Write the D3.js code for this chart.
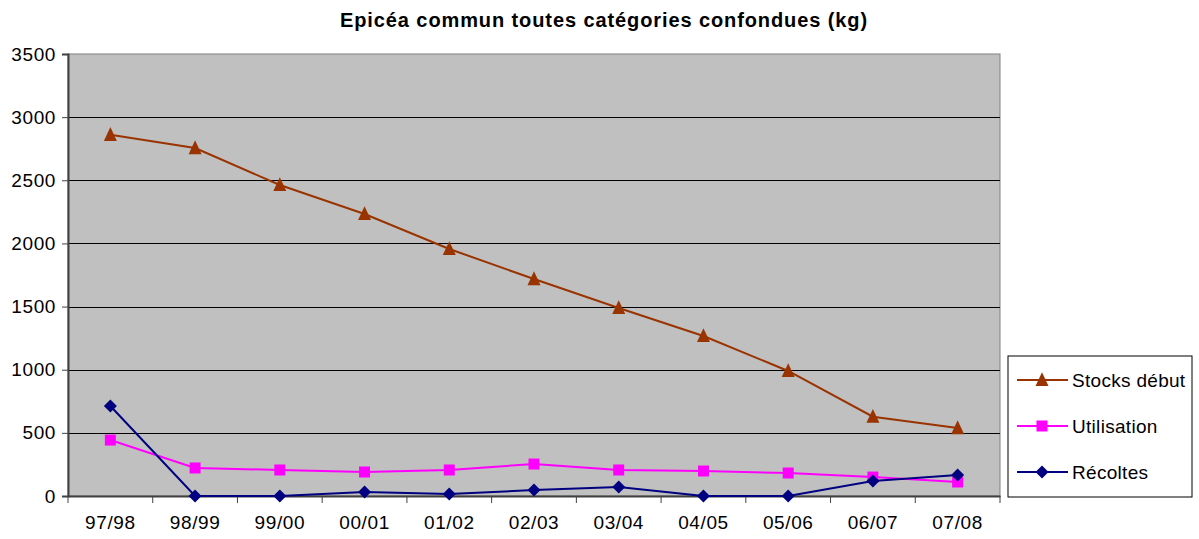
<!DOCTYPE html>
<html>
<head>
<meta charset="utf-8">
<script src="https://cdn.jsdelivr.net/npm/d3@7"></script>
<style>
  body { margin: 0; background: #fff; }
  svg { font-family: "Liberation Sans", Arial, sans-serif; }
</style>
</head>
<body>
<div id="chart"></div>
<script>
const categories = ['97/98', '98/99', '99/00', '00/01', '01/02', '02/03', '03/04', '04/05', '05/06', '06/07', '07/08'];
const stocksDebut = [2860, 2755, 2463, 2233, 1956, 1718, 1489, 1267, 990, 628, 538];
const utilisation = [443, 222, 206, 190, 206, 253, 206, 198, 182, 150, 111];
const recoltes = [713, 0, 0, 32, 16, 47, 71, 0, 0, 119, 166];
const yTicks = [0, 500, 1000, 1500, 2000, 2500, 3000, 3500];

const width = 1199;
const height = 539;
const margin = { top: 54, right: 199, bottom: 43, left: 68 };

// excel-like marker shapes (size = full width in px)
const triangle = {
    draw(ctx, s) {
        ctx.moveTo(0, -s * 0.6);
        ctx.lineTo(s / 2, s * 0.47);
        ctx.lineTo(-s / 2, s * 0.47);
        ctx.closePath();
    }
};
const square = {
    draw(ctx, s) {
        ctx.rect(-s / 2, -s / 2, s, s);
    }
};
const diamond = {
    draw(ctx, s) {
        ctx.moveTo(0, -s / 2);
        ctx.lineTo(s / 2, 0);
        ctx.lineTo(0, s / 2);
        ctx.lineTo(-s / 2, 0);
        ctx.closePath();
    }
};

const series = [
    { name: 'Stocks début', values: stocksDebut, color: '#993300', symbol: triangle, size: 13 },
    { name: 'Utilisation', values: utilisation, color: '#ff00ff', symbol: square, size: 11 },
    { name: 'Récoltes', values: recoltes, color: '#000080', symbol: diamond, size: 13 }
];

const svg = d3.select('#chart').append('svg')
    .attr('width', width)
    .attr('height', height);

const x = d3.scaleBand().domain(categories).range([margin.left, width - margin.right]);
const y = d3.scaleLinear().domain([0, 3500]).range([height - margin.bottom, margin.top]);

// plot area
svg.append('rect')
    .attr('x', margin.left)
    .attr('y', margin.top)
    .attr('width', width - margin.right - margin.left)
    .attr('height', height - margin.bottom - margin.top)
    .attr('fill', '#c0c0c0')
    .attr('stroke', '#808080')
    .attr('stroke-width', 1);

// gridlines
svg.append('g')
    .selectAll('line')
    .data(yTicks.filter(d => d > 0 && d < 3500))
    .join('line')
    .attr('x1', margin.left)
    .attr('x2', width - margin.right)
    .attr('y1', d => Math.round(y(d)) + 0.5)
    .attr('y2', d => Math.round(y(d)) + 0.5)
    .attr('stroke', '#000')
    .attr('stroke-width', 1);

// y axis
const yAxis = svg.append('g')
    .attr('transform', `translate(${margin.left},0)`)
    .call(d3.axisLeft(y).tickValues(yTicks).tickSize(6).tickPadding(6).tickFormat(d3.format('d')));
yAxis.select('.domain').attr('stroke', '#404040').attr('stroke-width', 2);
yAxis.selectAll('.tick line').attr('stroke', '#404040');
yAxis.selectAll('text').attr('font-size', 19).attr('fill', '#000')
    .attr('letter-spacing', 0.6)
    .attr('font-family', '"Liberation Sans", Arial, sans-serif');

// x axis
const xAxis = svg.append('g')
    .attr('transform', `translate(0,${height - margin.bottom})`)
    .call(d3.axisBottom(x).tickSize(0).tickPadding(20));
xAxis.select('.domain').attr('stroke', '#404040').attr('stroke-width', 2);
xAxis.selectAll('text').attr('font-size', 19).attr('fill', '#000')
    .attr('letter-spacing', 0.6)
    .attr('font-family', '"Liberation Sans", Arial, sans-serif');
xAxis.append('g')
    .selectAll('line')
    .data(categories.concat(['end']))
    .join('line')
    .attr('x1', (d, i) => margin.left + i * x.step())
    .attr('x2', (d, i) => margin.left + i * x.step())
    .attr('y1', 0)
    .attr('y2', 7)
    .attr('stroke', '#404040');

// lines and markers
const line = d3.line()
    .x((d, i) => x(categories[i]) + x.bandwidth() / 2)
    .y(d => y(d));

series.forEach(s => {
    svg.append('path')
        .datum(s.values)
        .attr('fill', 'none')
        .attr('stroke', s.color)
        .attr('stroke-width', 2)
        .attr('d', line);
    svg.append('g')
        .selectAll('path')
        .data(s.values)
        .join('path')
        .attr('transform', (d, i) => `translate(${x(categories[i]) + x.bandwidth() / 2},${y(d)})`)
        .attr('d', d3.symbol(s.symbol, s.size))
        .attr('fill', s.color);
});

// title
svg.append('text')
    .attr('x', 604)
    .attr('y', 27)
    .attr('text-anchor', 'middle')
    .attr('font-size', 20)
    .attr('font-weight', 'bold')
    .attr('letter-spacing', 0.9)
    .text('Epicéa commun toutes catégories confondues (kg)');

// legend
const legend = svg.append('g').attr('transform', 'translate(1008,356)');
legend.append('rect')
    .attr('width', 184)
    .attr('height', 141)
    .attr('fill', '#fff')
    .attr('stroke', '#000')
    .attr('stroke-width', 1);

series.forEach((s, i) => {
    const ly = 24 + i * 46;
    legend.append('line')
        .attr('x1', 9).attr('x2', 60)
        .attr('y1', ly).attr('y2', ly)
        .attr('stroke', s.color).attr('stroke-width', 2);
    legend.append('path')
        .attr('transform', `translate(34,${ly})`)
        .attr('d', d3.symbol(s.symbol, s.size))
        .attr('fill', s.color);
    legend.append('text')
        .attr('x', 64)
        .attr('y', ly + 7)
        .attr('font-size', 19)
        .attr('letter-spacing', 0.3)
        .text(s.name);
});
</script>
</body>
</html>
